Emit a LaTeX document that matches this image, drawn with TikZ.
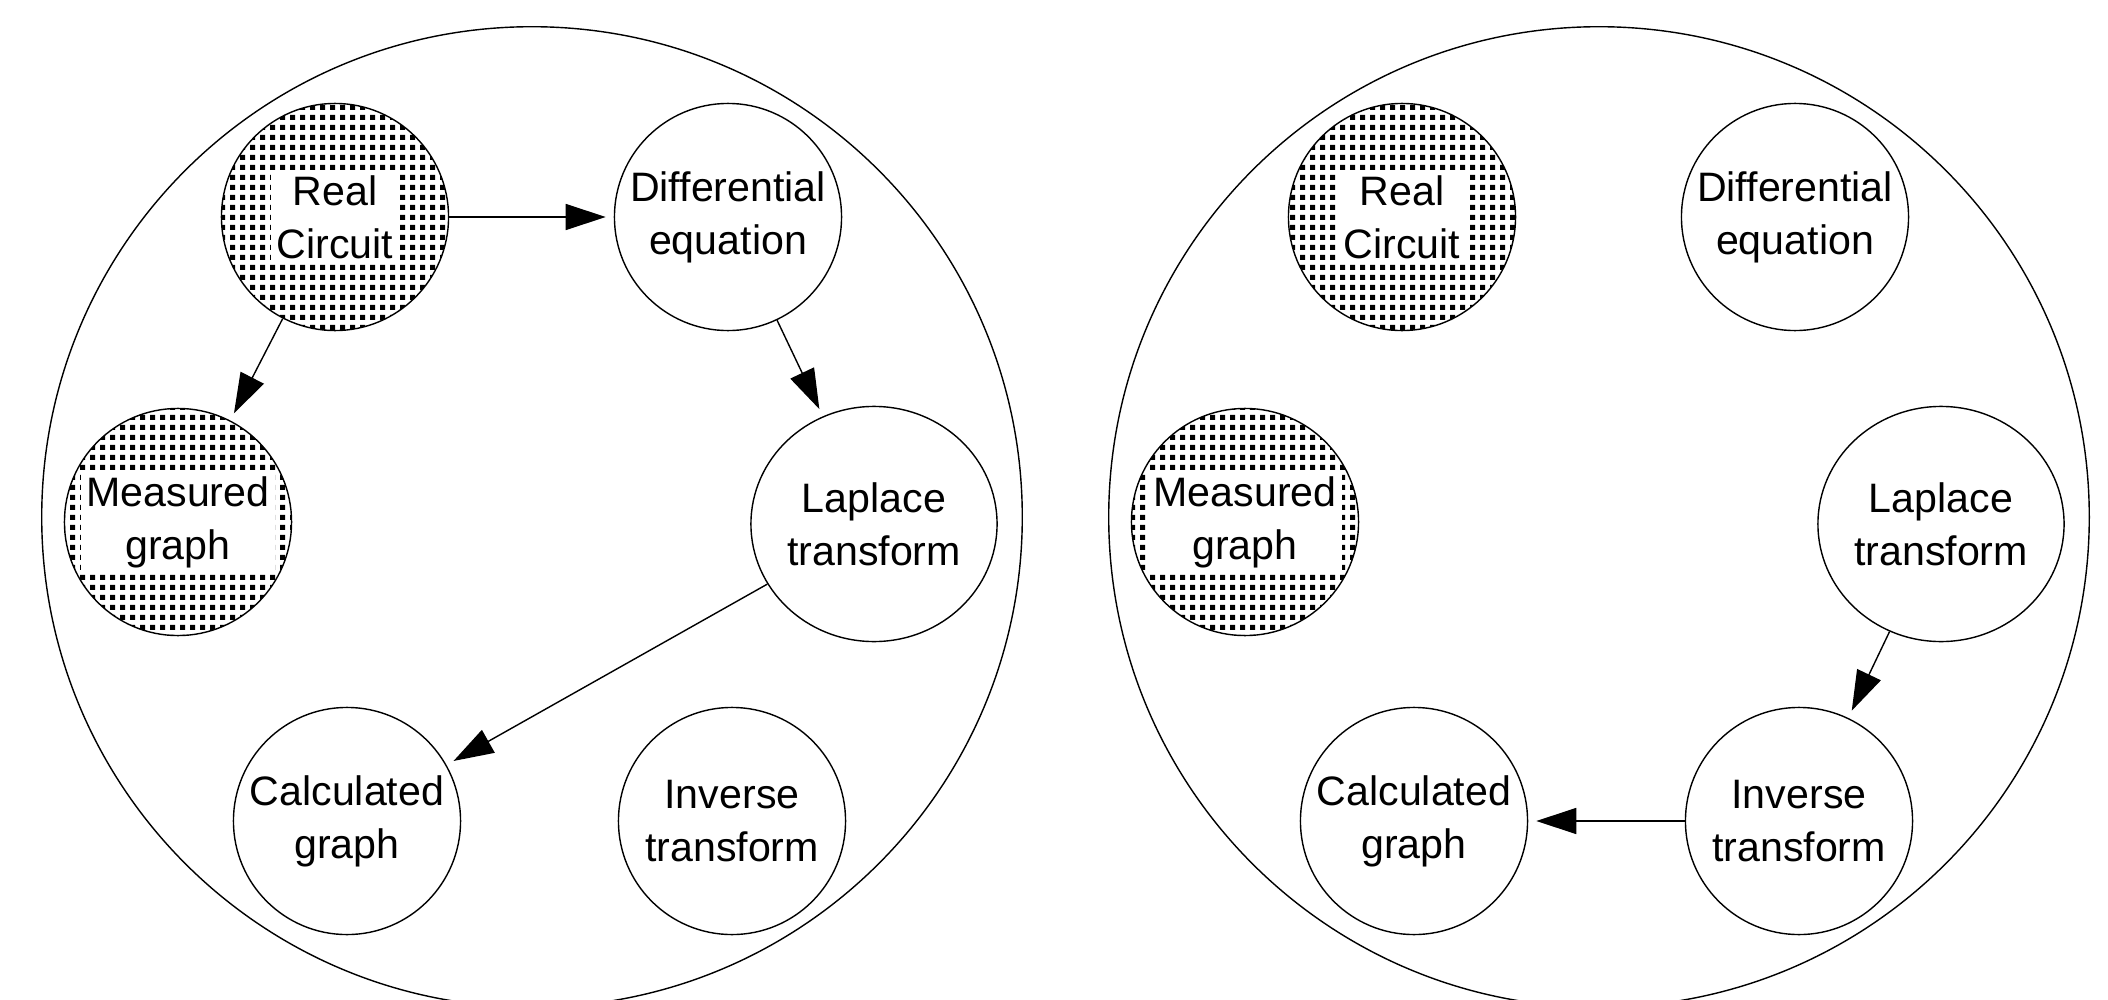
\documentclass[tikz,border=0pt]{standalone}
\usepackage{fontspec}
\setmainfont{Liberation Sans}
\usetikzlibrary{arrows.meta,shapes.geometric,patterns}
\pgfdeclarepatternformonly{sqdots}{\pgfqpoint{0pt}{0pt}}{\pgfqpoint{2.845pt}{2.845pt}}{\pgfqpoint{2.845pt}{2.845pt}}{%
  \pgfpathrectangle{\pgfqpoint{0pt}{0pt}}{\pgfqpoint{1.6pt}{1.6pt}}\pgfusepath{fill}}
\begin{document}
\begin{tikzpicture}[x=0.01cm,y=-0.01cm,
  every node/.style={font=\fontsize{11.7pt}{15pt}\selectfont, align=center},
  outer/.style={circle,draw,line width=0.4pt,minimum size=9.8cm,inner sep=0pt},
  plain/.style={circle,draw,line width=0.4pt,minimum size=2.27cm,inner sep=0pt},
  shaded/.style={plain,pattern=sqdots},
  lap/.style={ellipse,draw,line width=0.4pt,minimum width=2.46cm,minimum height=2.35cm,inner sep=0pt},
  lbl/.style={fill=white,inner xsep=1.5pt,inner ysep=1pt},
  arr/.style={-{Triangle[length=0.4cm,width=0.26cm]},line width=0.4pt,shorten >=0.08cm}]
\fill[white] (0,0) rectangle (2108,1000);
\useasboundingbox (0,0) rectangle (2108,1000);
% left panel
\node[outer] (outL) at (532,517) {};
\node[shaded] (realL) at (335,217) {};
\node[lbl] (realLt) at (realL) {Real\\Circuit};
\node[plain] (diffL) at (728,217) {Differential\\equation};
\node[shaded] (measL) at (178,522) {};
\node[lbl] (measLt) at (measL) {Measured\\graph};
\node[lap] (lapL) at (874,524) {Laplace\\transform};
\node[plain] (calcL) at (347,821) {Calculated\\graph};
\node[plain] (invL) at (732,821) {Inverse\\transform};
\draw[arr] (realL) -- (diffL);
\draw[arr] (realL) -- (measL);
\draw[arr] (diffL) -- (lapL);
\draw[arr] (lapL) -- (calcL);
% right panel
\node[outer] (outR) at (1599,517) {};
\node[shaded] (realR) at (1402,217) {};
\node[lbl] (realRt) at (realR) {Real\\Circuit};
\node[plain] (diffR) at (1795,217) {Differential\\equation};
\node[shaded] (measR) at (1245,522) {};
\node[lbl] (measRt) at (measR) {Measured\\graph};
\node[lap] (lapR) at (1941,524) {Laplace\\transform};
\node[plain] (calcR) at (1414,821) {Calculated\\graph};
\node[plain] (invR) at (1799,821) {Inverse\\transform};
\draw[arr] (lapR) -- (invR);
\draw[arr] (invR) -- (calcR);
\end{tikzpicture}
\end{document}
